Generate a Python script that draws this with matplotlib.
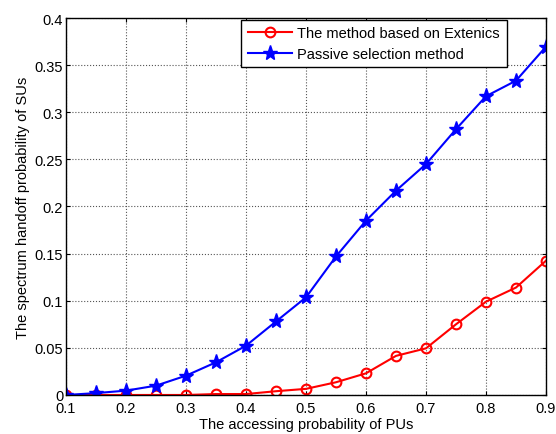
import numpy as np
import matplotlib.pyplot as plt

# accessing probability of PUs
pu_prob = [0.1, 0.15, 0.2, 0.25, 0.3, 0.35, 0.4, 0.45, 0.5,
           0.55, 0.6, 0.65, 0.7, 0.75, 0.8, 0.85, 0.9]
# spectrum handoff probability of SUs
extenics = [0.0, 0.0, 0.0, 0.0, 0.0, 0.001, 0.001, 0.004, 0.0065,
            0.0135, 0.023, 0.0415, 0.0495, 0.075, 0.099, 0.114, 0.1425]
passive = [0.0, 0.002, 0.0046, 0.0099, 0.0205, 0.0347, 0.0523, 0.078, 0.1036,
           0.147, 0.185, 0.2168, 0.245, 0.282, 0.317, 0.3335, 0.3696]

xticks = [0.1, 0.2, 0.3, 0.4, 0.5, 0.6, 0.7, 0.8, 0.9]
yticks = [0, 0.05, 0.1, 0.15, 0.2, 0.25, 0.3, 0.35, 0.4]
ytick_labels = ['0', '0.05', '0.1', '0.15', '0.2', '0.25', '0.3', '0.35', '0.4']

plt.rcParams['font.family'] = ['Liberation Sans', 'DejaVu Sans']
plt.rcParams['font.size'] = 10.5

fig = plt.figure(figsize=(5.56, 4.35), dpi=100)
ax = fig.add_axes([0.1187, 0.0897, 0.8633, 0.8666])

ax.plot(pu_prob, extenics, color='red', linewidth=1.5, marker='o',
        markersize=7, markerfacecolor='none', markeredgewidth=1.5,
        label='The method based on Extenics')
ax.plot(pu_prob, passive, color='blue', linewidth=1.5, marker='*',
        markersize=11, label='Passive selection method')

ax.set_xlim(0.1, 0.9)
ax.set_ylim(0, 0.4)
ax.set_xticks(xticks)
ax.set_xticklabels([str(t) for t in xticks])
ax.set_yticks(yticks)
ax.set_yticklabels(ytick_labels)
ax.tick_params(direction='in', top=True, right=True, length=3, pad=4)
ax.tick_params(axis='y', pad=2)
ax.grid(True, color='#555555', linestyle=':', linewidth=0.8)
for s in ax.spines.values():
    s.set_linewidth(1.0)

ax.set_xlabel('The accessing probability of PUs', labelpad=2)
ax.set_ylabel('The spectrum handoff probability of SUs', labelpad=3)

leg = ax.legend(loc='upper right', bbox_to_anchor=(0.918, 0.996),
                fancybox=False, framealpha=1, edgecolor='black',
                borderaxespad=0, handlelength=3.0, handletextpad=0.4,
                borderpad=0.45, labelspacing=0.45)
leg.get_frame().set_linewidth(1.0)

fig.savefig('out.png', dpi=100)
